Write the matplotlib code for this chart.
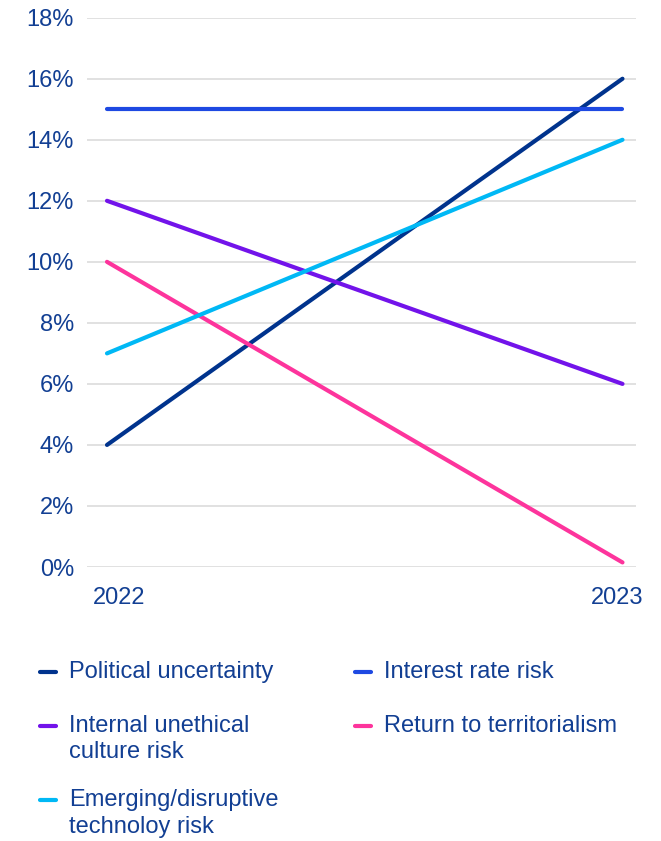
import matplotlib
matplotlib.use("Agg")
import matplotlib.pyplot as plt
from matplotlib.lines import Line2D
from matplotlib.transforms import ScaledTranslation

# ---- data ----
years = ["2022", "2023"]
series_names = [
    "Political uncertainty",
    "Interest rate risk",
    "Internal unethical\nculture risk",
    "Return to territorialism",
    "Emerging/disruptive\ntechnoloy risk",
]
political = [4, 16]
interest = [15, 15]
unethical = [12, 6]
territorialism = [10, 0.15]
emerging = [7, 14]
y_ticks = [0, 2, 4, 6, 8, 10, 12, 14, 16, 18]
y_tick_labels = [f"{v}%" for v in y_ticks]

# ---- style ----
colors = ["#00338D", "#1E49E2", "#7213EA", "#FD349C", "#00B8F5"]
text_color = "#123f93"
font = "Liberation Sans"
fs = 17

W, H = 661, 841
fig = plt.figure(figsize=(W / 100, H / 100), dpi=100)
ax_left, ax_right, ax_top, ax_bottom = 87, 636, 17.7, 567
ax = fig.add_axes([ax_left / W, (H - ax_bottom) / H,
                   (ax_right - ax_left) / W, (ax_bottom - ax_top) / H])

xs = list(range(len(years)))
all_series = [political, interest, unethical, territorialism, emerging]
for vals, c in zip(all_series, colors):
    ax.plot(xs, vals, color=c, lw=3, solid_capstyle="round", zorder=3)

ax.set_xlim(-0.0388, 1.0262)
ax.set_ylim(0, 18)
ax.set_yticks(y_ticks)
ax.set_yticklabels(y_tick_labels, fontsize=fs, color=text_color, family=font)
ax.set_xticks(xs)
ax.set_xticklabels(years, fontsize=fs, color=text_color, family=font)
ax.tick_params(axis="y", length=0, pad=9.4)
ax.tick_params(axis="x", length=0, pad=14.5)
ax.grid(axis="y", color="#d9d9d9", lw=1.1, zorder=0)
ax.grid(axis="x", visible=False)
for s in ax.spines.values():
    s.set_visible(False)

# nudge year labels as in reference
offsets_px = [12.5, -5.5]
for lbl, dx in zip(ax.get_xticklabels(), offsets_px):
    lbl.set_transform(lbl.get_transform() + ScaledTranslation(dx / 100, 0, fig.dpi_scale_trans))

# ---- legend (manual layout) ----
# (handle_x0, handle_x1, text_x, first_baseline) in pixels
legend_layout = [
    (40, 56, 69, 678),     # Political
    (355, 371, 384, 678),  # Interest
    (40, 56, 69, 731.5),   # Internal
    (355, 371, 384, 731.5),  # Return
    (40, 56, 69, 806),     # Emerging
]
line_gap = 27
for name, c, (hx0, hx1, tx, base) in zip(series_names, colors, legend_layout):
    hy = base - 6
    fig.add_artist(Line2D([hx0 / W, hx1 / W], [1 - hy / H, 1 - hy / H],
                          transform=fig.transFigure, color=c, lw=3,
                          solid_capstyle="round"))
    for k, line in enumerate(name.split("\n")):
        fig.text(tx / W, 1 - (base + k * line_gap) / H, line, fontsize=fs,
                 color=text_color, family=font, va="baseline", ha="left")

fig.savefig("out.png", dpi=100)
